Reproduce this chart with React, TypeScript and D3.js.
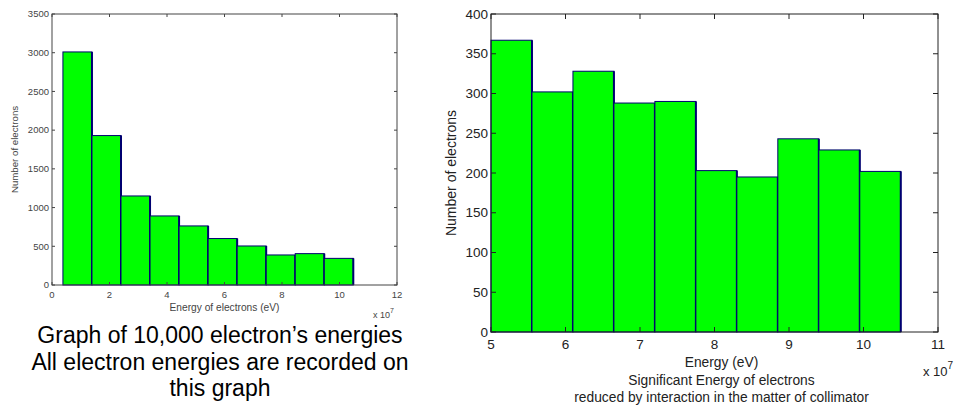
import React from "react";
import * as d3 from "d3";

// left histogram: all electrons (energy in units of 1e7 eV)
const allEdges = [0.38, 1.39, 2.4, 3.41, 4.42, 5.43, 6.44, 7.45, 8.46, 9.47, 10.48];
const allCounts = [3010, 1930, 1150, 892, 763, 600, 504, 388, 405, 344];
const allXTicks = [0, 2, 4, 6, 8, 10, 12];
const allYTicks = [0, 500, 1000, 1500, 2000, 2500, 3000, 3500];

// right histogram: significant energies only
const sigEdges = [5.0, 5.55, 6.1, 6.65, 7.2, 7.75, 8.3, 8.85, 9.4, 9.95, 10.5];
const sigCounts = [367, 302, 328, 288, 290, 203, 195, 243, 229, 202];
const sigXTicks = [5, 6, 7, 8, 9, 10, 11];
const sigYTicks = [0, 50, 100, 150, 200, 250, 300, 350, 400];

const leftCaption = [
  "Graph of 10,000 electron\u2019s energies",
  "All electron energies are recorded on",
  "this graph",
];
const rightCaption = [
  "Energy (eV)",
  "Significant Energy of electrons",
  "reduced by interaction in the matter of collimator",
];

const FONT = "'Liberation Sans', Arial, Helvetica, sans-serif";
const GREEN = "#00ff00";
const EDGE = "#000070";

type HistProps = {
  edges: number[];
  counts: number[];
  xTicks: number[];
  yTicks: number[];
  xDomain: [number, number];
  yDomain: [number, number];
  box: { x0: number; x1: number; y0: number; y1: number };
  fontSize: number;
  tickLen: number;
  ink: string;
  xLabelGap: number;
};

const Histogram = ({ edges, counts, xTicks, yTicks, xDomain, yDomain, box, fontSize, tickLen, ink, xLabelGap }: HistProps) => {
  const x = d3.scaleLinear().domain(xDomain).range([box.x0, box.x1]);
  const y = d3.scaleLinear().domain(yDomain).range([box.y1, box.y0]);

  return (
    <g fontFamily={FONT}>
      <rect x={box.x0} y={box.y0} width={box.x1 - box.x0} height={box.y1 - box.y0} fill="#fff" />
      {counts.map((c, i) => {
        const xa = x(edges[i]);
        const xb = x(edges[i + 1]);
        return (
          <g key={i}>
            <rect x={xa} y={y(c)} width={xb - xa} height={y(0) - y(c)} fill={GREEN} stroke={EDGE} strokeWidth={1} />
            <line x1={xb} x2={xb} y1={y(c)} y2={y(0)} stroke={EDGE} strokeWidth={2} />
          </g>
        );
      })}
      <rect x={box.x0} y={box.y0} width={box.x1 - box.x0} height={box.y1 - box.y0} fill="none" stroke={ink} strokeWidth={1} />
      {xTicks.map((t) => (
        <g key={"x" + t}>
          <line x1={x(t)} x2={x(t)} y1={box.y1} y2={box.y1 - tickLen} stroke={ink} />
          <line x1={x(t)} x2={x(t)} y1={box.y0} y2={box.y0 + tickLen} stroke={ink} />
          <text x={x(t)} y={box.y1 + xLabelGap} textAnchor="middle" fontSize={fontSize} fill={ink}>
            {t}
          </text>
        </g>
      ))}
      {yTicks.map((t) => (
        <g key={"y" + t}>
          <line x1={box.x0} x2={box.x0 + tickLen} y1={y(t)} y2={y(t)} stroke={ink} />
          <line x1={box.x1} x2={box.x1 - tickLen} y1={y(t)} y2={y(t)} stroke={ink} />
          <text x={box.x0 - 3} y={y(t)} dy="0.35em" textAnchor="end" fontSize={fontSize} fill={ink}>
            {t}
          </text>
        </g>
      ))}
    </g>
  );
};

const App = () => {
  const lbox = { x0: 52, x1: 397, y0: 14, y1: 285 };
  const rbox = { x0: 491, x1: 938, y0: 14, y1: 332 };
  const lmid = (lbox.x0 + lbox.x1) / 2;
  const rmid = (rbox.x0 + rbox.x1) / 2;

  return (
    <svg width={959} height={407} style={{ position: "absolute", left: 0, top: 0, background: "#fff" }}>
      <Histogram
        edges={allEdges}
        counts={allCounts}
        xTicks={allXTicks}
        yTicks={allYTicks}
        xDomain={[0, 12]}
        yDomain={[0, 3500]}
        box={lbox}
        fontSize={9.5}
        tickLen={3}
        ink="#444"
        xLabelGap={13}
      />
      <text x={15} y={(lbox.y0 + lbox.y1) / 2} transform={`rotate(-90 15 ${(lbox.y0 + lbox.y1) / 2})`} dy="0.35em" textAnchor="middle" fontSize={9.7} fill="#444" fontFamily={FONT}>
        Number of electrons
      </text>
      <text x={lmid} y={311} textAnchor="middle" fontSize={10.2} fill="#444" fontFamily={FONT}>
        Energy of electrons (eV)
      </text>
      <text x={373} y={318} fontSize={9} fill="#444" fontFamily={FONT}>
        x 10<tspan dy={-5} fontSize={7}>7</tspan>
      </text>
      {leftCaption.map((s, i) => (
        <text key={s} x={220} y={343 + i * 26.5} textAnchor="middle" fontSize={23} fill="#000" fontFamily={FONT}>
          {s}
        </text>
      ))}

      <Histogram
        edges={sigEdges}
        counts={sigCounts}
        xTicks={sigXTicks}
        yTicks={sigYTicks}
        xDomain={[5, 11]}
        yDomain={[0, 400]}
        box={rbox}
        fontSize={13.5}
        tickLen={5}
        ink="#222"
        xLabelGap={17}
      />
      <text x={451} y={(rbox.y0 + rbox.y1) / 2} transform={`rotate(-90 451 ${(rbox.y0 + rbox.y1) / 2})`} dy="0.35em" textAnchor="middle" fontSize={14} fill="#222" fontFamily={FONT}>
        Number of electrons
      </text>
      {rightCaption.map((s, i) => (
        <text key={s} x={rmid + 7} y={367 + i * 17.5} textAnchor="middle" fontSize={13.8} fill="#222" fontFamily={FONT}>
          {s}
        </text>
      ))}
      <text x={923} y={376} fontSize={13} fill="#222" fontFamily={FONT}>
        x 10<tspan dy={-7} fontSize={10}>7</tspan>
      </text>
    </svg>
  );
};

export default App;
